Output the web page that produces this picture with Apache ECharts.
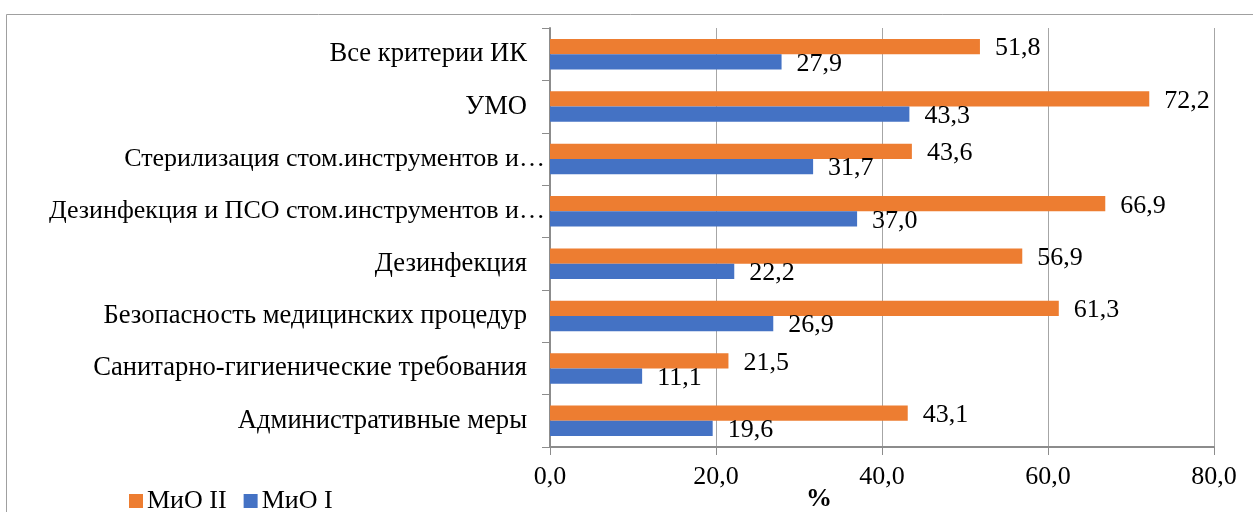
<!DOCTYPE html>
<html>
<head>
<meta charset="utf-8">
<script src="https://cdn.jsdelivr.net/npm/echarts@6/dist/echarts.min.js"></script>
<style>
  html, body { margin: 0; padding: 0; background: #fff; }
  #chart { width: 1253px; height: 512px; }
</style>
</head>
<body>
<div id="chart"></div>
<script>
// Categories listed bottom to top (category axis runs upward)
const categories = [
  'Административные меры',
  'Санитарно-гигиенические требования',
  'Безопасность медицинских процедур',
  'Дезинфекция',
  'Дезинфекция и ПСО стом.инструментов и…',
  'Стерилизация стом.инструментов и…',
  'УМО',
  'Все критерии ИК'
];
const seriesNames = ['МиО II', 'МиО I'];
const valuesMiO2 = [43.1, 21.5, 61.3, 56.9, 66.9, 43.6, 72.2, 51.8];
const valuesMiO1 = [19.6, 11.1, 26.9, 22.2, 37.0, 31.7, 43.3, 27.9];
const xTicks = { min: 0, max: 80, interval: 20 };
const axisTitle = '%';

const FONT = '"Liberation Serif", "Times New Roman", serif';
const fmt = v => Number(v).toFixed(1).replace('.', ',');

const chart = echarts.init(document.getElementById('chart'), null, { renderer: 'canvas' });

const labelStyle = {
  show: true,
  position: 'right',
  distance: 15,
  offset: [0, 2],
  color: '#000',
  fontFamily: FONT,
  fontSize: 26,
  formatter: p => fmt(p.value)
};

chart.setOption({
  backgroundColor: '#fff',
  animation: false,
  title: {
    text: axisTitle,
    left: 806,
    top: 486,
    padding: 0,
    textStyle: { fontFamily: FONT, fontSize: 26, fontWeight: 'bold', color: '#000' }
  },
  legend: {
    data: seriesNames,
    left: 129,
    top: 488,
    padding: 0,
    icon: 'rect',
    itemWidth: 14,
    itemHeight: 14,
    itemGap: 17,
    textStyle: { fontFamily: FONT, fontSize: 26, color: '#000', padding: [0, 0, 0, -1] }
  },
  grid: { left: 550, right: 39, top: 28, bottom: 65, containLabel: false },
  xAxis: {
    type: 'value',
    min: xTicks.min,
    max: xTicks.max,
    interval: xTicks.interval,
    axisLine: { show: true, lineStyle: { color: '#8c8c8c', width: 2 } },
    axisTick: { show: true, length: 8, lineStyle: { color: '#8c8c8c', width: 1 } },
    splitLine: { show: true, lineStyle: { color: '#a6a6a6', width: 1 } },
    axisLabel: {
      color: '#000',
      fontFamily: FONT,
      fontSize: 26,
      margin: 17,
      formatter: v => fmt(v)
    }
  },
  yAxis: {
    type: 'category',
    data: categories,
    axisLine: { show: true, lineStyle: { color: '#8c8c8c', width: 2 } },
    axisTick: { show: true, length: 8, lineStyle: { color: '#8c8c8c', width: 1 } },
    axisLabel: {
      color: '#000',
      fontFamily: FONT,
      fontSize: 26.6,
      margin: 5,
      formatter: v => (v.endsWith('…') ? '{b|' + v + '}' : '{a|' + v + '}'),
      rich: {
        a: { fontFamily: FONT, fontSize: 26.6, color: '#000', padding: [0, 18, 0, 0] },
        b: { fontFamily: FONT, fontSize: 26, color: '#000' }
      }
    }
  },
  graphic: [
    {
      type: 'rect',
      silent: true,
      shape: { x: 6.5, y: 14.5, width: 1400, height: 700 },
      style: { fill: 'none', stroke: '#a0a0a0', lineWidth: 1 }
    }
  ],
  series: [
    {
      name: seriesNames[0],
      type: 'bar',
      data: valuesMiO2,
      itemStyle: { color: '#ED7D31' },
      barGap: '0%',
      barCategoryGap: '42%',
      label: labelStyle
    },
    {
      name: seriesNames[1],
      type: 'bar',
      data: valuesMiO1,
      itemStyle: { color: '#4472C4' },
      barGap: '0%',
      barCategoryGap: '42%',
      label: labelStyle
    }
  ]
});
</script>
</body>
</html>
